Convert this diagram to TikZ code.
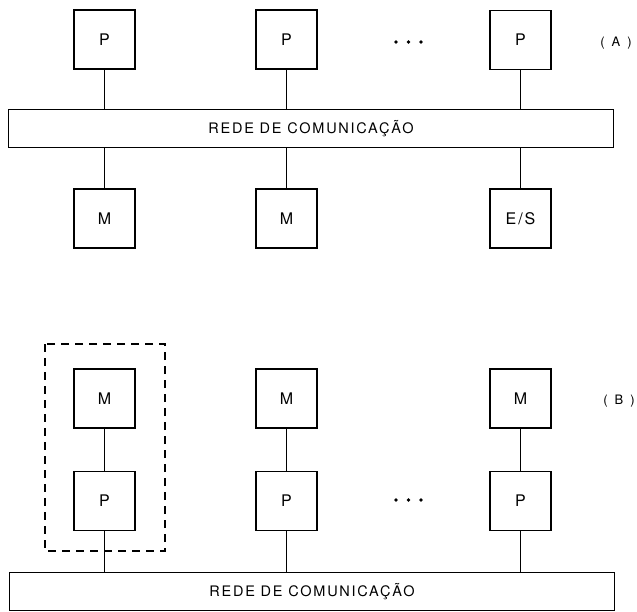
\documentclass[tikz,border=0pt]{standalone}
\usepackage{fontspec}
\setmainfont{TeX Gyre Heros}
\usetikzlibrary{positioning}

\begin{document}
\begin{tikzpicture}[x=1pt, y=-1pt,
  unit/.style={draw, line width=1.7pt, minimum width=61pt, minimum height=59pt,
    inner sep=0pt, font=\fontsize{16}{18}\selectfont\addfontfeature{LetterSpace=12}},
  bus/.style={draw, line width=1.7pt, minimum width=605pt, minimum height=38pt,
    inner sep=0pt, font=\fontsize{14.5}{16}\selectfont\addfontfeature{LetterSpace=12}},
  link/.style={line width=1.1pt},
  frame/.style={line width=1.1pt, dash pattern=on 8pt off 6pt},
  tag/.style={font=\fontsize{13}{15}\selectfont}]
\useasboundingbox (0,0) rectangle (637,612);

% (A)
\node[unit] (pa1) at (104.5,39.5) {P};
\node[unit] (pa2) at (286.5,39.5) {P};
\node[unit] (pa3) at (520.5,40) {P};
\node[bus] (neta) at (311,128.5) {REDE DE COMUNICAÇÃO};
\node[unit] (ma1) at (104.5,218.5) {M};
\node[unit] (ma2) at (286.5,218.5) {M};
\node[unit] (ma3) at (520.5,218.5) {E/S};
\foreach \n in {1,2,3} {
  \draw[link] (pa\n) -- (pa\n |- neta.north);
  \draw[link] (ma\n) -- (ma\n |- neta.south);
}
\foreach \x in {396,408.5,421} \fill (\x,42) circle (1.8);
\node[tag] (taga) at (616,43) {(\hspace{7pt}A\hspace{7pt})};

% (B)
\node[unit] (mb1) at (104.5,398.5) {M};
\node[unit] (mb2) at (286.5,398.5) {M};
\node[unit] (mb3) at (520.5,398.5) {M};
\node[unit] (pb1) at (104.5,501) {P};
\node[unit] (pb2) at (286.5,501) {P};
\node[unit] (pb3) at (520.5,501) {P};
\node[bus] (netb) at (312,591.5) {REDE DE COMUNICAÇÃO};
\foreach \n in {1,2,3} {
  \draw[link] (mb\n) -- (pb\n);
  \draw[link] (pb\n) -- (pb\n |- netb.north);
}
\draw[frame] (45,344) rectangle (165,551);
\foreach \x in {396,408.5,421} \fill (\x,500) circle (1.8);
\node[tag] (tagb) at (619,401) {(\hspace{7pt}B\hspace{7pt})};
\end{tikzpicture}
\end{document}
